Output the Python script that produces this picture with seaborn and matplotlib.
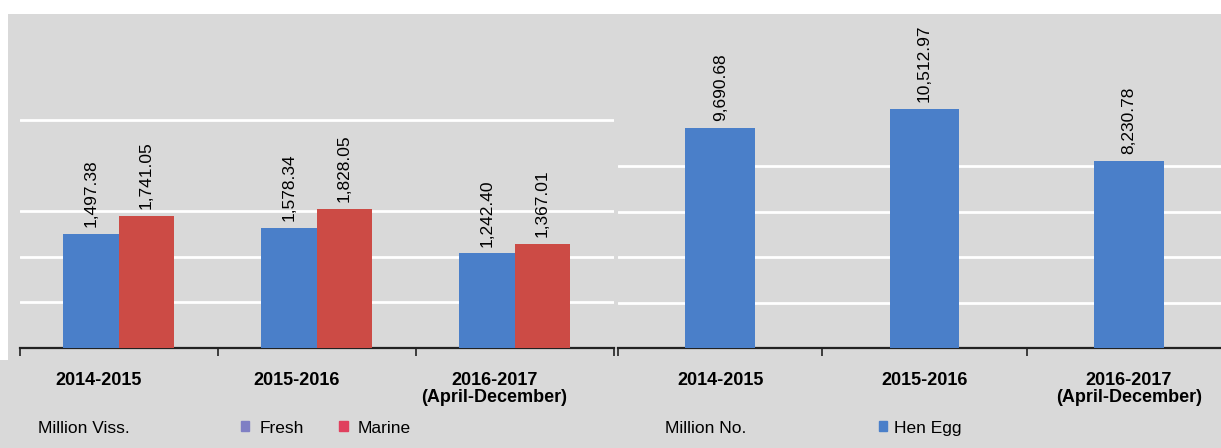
import pandas as pd
import matplotlib
matplotlib.use("Agg")
import matplotlib.pyplot as plt
import matplotlib.transforms as mtransforms
from matplotlib.patches import Rectangle, Patch
import seaborn as sns

# Dane
okresy = ["2014-2015", "2015-2016", "2016-2017\n(April-December)"]
fresh = [1497.38, 1578.34, 1242.40]
marine = [1741.05, 1828.05, 1367.01]
hen_egg = [9690.68, 10512.97, 8230.78]

fish_unit = "Million Viss."
egg_unit = "Million No."

BG = "#d9d9d9"
BLUE = "#4a7fc9"
RED = "#cc4b45"

sns.set_style("white")
plt.rcParams["font.family"] = ["Liberation Sans", "DejaVu Sans"]
plt.rcParams["text.color"] = "black"
plt.rcParams["xtick.color"] = "black"

df_fish = pd.DataFrame({
    "okres": okresy * 2,
    "typ": ["Fresh"] * 3 + ["Marine"] * 3,
    "wartosc": fresh + marine,
})
df_egg = pd.DataFrame({"okres": okresy, "wartosc": hen_egg})

W, H = 1221, 448
fig = plt.figure(figsize=(W / 100, H / 100), dpi=100, facecolor=BG)
fig.patches.append(Rectangle((0, 1 - 14 / H), 1, 14 / H, transform=fig.transFigure,
                             facecolor="white", edgecolor="none", zorder=0))
fig.patches.append(Rectangle((0, 1 - 360 / H), 8 / W, 360 / H, transform=fig.transFigure,
                             facecolor="white", edgecolor="none", zorder=0))

ax1 = fig.add_axes([19.5 / W, 100 / H, 594 / W, 334 / H])
ax2 = fig.add_axes([618 / W, 100 / H, 613 / W, 334 / H])

# Lewy panel - ryby
sns.barplot(data=df_fish, x="okres", y="wartosc", hue="typ",
            palette=[BLUE, RED], width=0.56, gap=0, saturation=1,
            linewidth=0, edgecolor="none", ax=ax1, legend=False, zorder=3)
ax1.set_ylim(0, 4390)
ax1.set_yticks([600, 1200, 1800, 3000])

for cont in ax1.containers:
    ax1.bar_label(cont, labels=[f"{v:,.2f}" for v in cont.datavalues],
                  rotation=90, padding=5, fontsize=12.5, color="black")

# Prawy panel - jaja
sns.barplot(data=df_egg, x="okres", y="wartosc", color=BLUE, width=0.34,
            saturation=1, linewidth=0, edgecolor="none", ax=ax2, zorder=3)
ax2.set_ylim(0, 14700)
ax2.set_yticks([2000, 4000, 6000, 8000])
for cont in ax2.containers:
    ax2.bar_label(cont, labels=[f"{v:,.2f}" for v in cont.datavalues],
                  rotation=90, padding=5, fontsize=12.5, color="black")

for ax in (ax1, ax2):
    ax.set_facecolor(BG)
    ax.set_xlim(-0.5, 2.5)
    ax.grid(axis="y", color="white", linewidth=2, zorder=0)
    ax.set_axisbelow(True)
    for s in ["top", "right", "left"]:
        ax.spines[s].set_visible(False)
    ax.spines["bottom"].set_color("#222222")
    ax.spines["bottom"].set_linewidth(1.6)
    ax.set_xlabel("")
    ax.set_ylabel("")
    ax.tick_params(axis="y", left=False, labelleft=False)
    ax.set_xticks([-0.5, 0.5, 1.5, 2.5], minor=True)
    ax.tick_params(axis="x", which="minor", bottom=True, direction="out", length=6,
                   width=1.2, color="#222222")
    ax.tick_params(axis="x", which="major", bottom=False, length=0, pad=17)
    for lab in ax.get_xticklabels():
        lab.set_fontweight("bold")
        lab.set_fontsize(13)
        lab.set_linespacing(1.0)
        lab.set_verticalalignment("top")
        lab.set_color("black")

# Przesunięcie etykiet lewego panelu
offset = mtransforms.ScaledTranslation(-20 / 100, 0, fig.dpi_scale_trans)
for lab in ax1.get_xticklabels():
    lab.set_transform(lab.get_transform() + offset)

# Jednostki i legendy
fig.text(38 / W, 1 - 428 / H, fish_unit, fontsize=12.5, va="center", ha="left")
fig.text(665 / W, 1 - 428 / H, egg_unit, fontsize=12.5, va="center", ha="left")

leg1 = fig.legend(handles=[Patch(color="#7f7fc4", label="Fresh"), Patch(color="#e0405e", label="Marine")],
                  loc="center left", bbox_to_anchor=(232 / W, 1 - 428 / H), ncol=2, frameon=False,
                  fontsize=12.5, handlelength=0.5, handleheight=0.5, handletextpad=0.6,
                  columnspacing=2.0, borderpad=0)
leg2 = fig.legend(handles=[Patch(color=BLUE, label="Hen Egg")],
                  loc="center left", bbox_to_anchor=(870 / W, 1 - 428 / H), frameon=False,
                  fontsize=12.5, handlelength=0.5, handleheight=0.5, handletextpad=0.4, borderpad=0)

plt.savefig("out.png", dpi=100, facecolor=BG)
